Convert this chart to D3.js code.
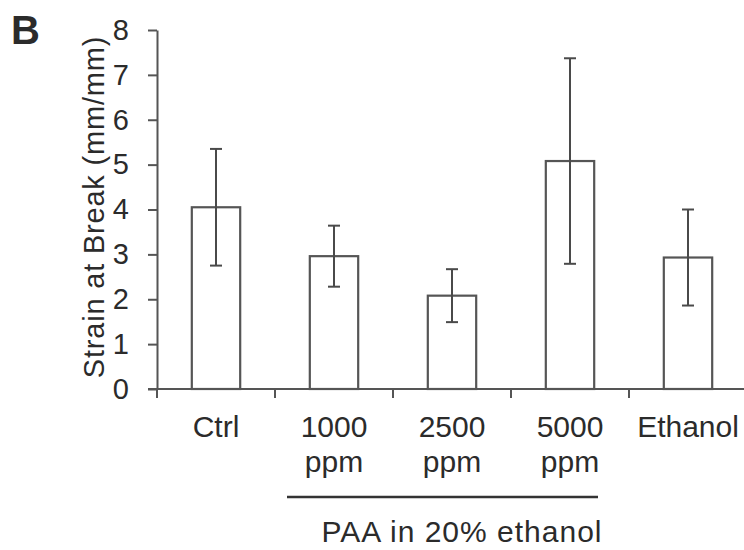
<!DOCTYPE html>
<html>
<head>
<meta charset="utf-8">
<script src="https://cdn.jsdelivr.net/npm/d3@7"></script>
<style>
  html, body { margin: 0; padding: 0; background: #fff; }
  svg { display: block; }
  text { font-family: "Liberation Sans", Arial, Helvetica, sans-serif; fill: #2b2b2b; }
</style>
</head>
<body>
<svg id="chart" width="744" height="550"></svg>
<script>
// ---- data ----
const categories = ["Ctrl", "1000 ppm", "2500 ppm", "5000 ppm", "Ethanol"];
const labelLines = [["Ctrl"], ["1000", "ppm"], ["2500", "ppm"], ["5000", "ppm"], ["Ethanol"]];
const means = [4.05, 2.96, 2.08, 5.08, 2.93];
const errors = [1.30, 0.68, 0.59, 2.29, 1.07];
const yTicks = [0, 1, 2, 3, 4, 5, 6, 7, 8];
const yTitle = "Strain at Break (mm/mm)";
const groupLabel = "PAA in 20% ethanol";
const panelLabel = "B";

// ---- layout ----
const svg = d3.select("#chart");
const x0 = 157, x1 = 747, yBottom = 389, yTop = 30;
const axisColor = "#555";

const x = d3.scaleBand().domain(categories).range([x0, x1]).padding(0);
const y = d3.scaleLinear().domain([0, 8]).range([yBottom, yTop]);
const barW = x.bandwidth() * 0.41;

// y axis
const yAxis = d3.axisLeft(y).tickValues(yTicks).tickSize(9).tickSizeOuter(0).tickPadding(19);
const gy = svg.append("g").attr("transform", `translate(${x0},0)`).call(yAxis);
gy.select(".domain").attr("stroke", axisColor).attr("stroke-width", 2);
gy.selectAll(".tick line").attr("stroke", axisColor).attr("stroke-width", 2);
gy.selectAll(".tick text")
  .attr("font-size", 29)
  .attr("fill", "#2b2b2b")
  .style("font-family", '"Liberation Sans", Arial, sans-serif');

// x axis line
svg.append("line")
  .attr("x1", x0 - 9).attr("x2", 744)
  .attr("y1", y(0)).attr("y2", y(0))
  .attr("stroke", axisColor).attr("stroke-width", 2);

// x ticks at band boundaries
const boundaries = categories.map(c => x(c));
svg.append("g").selectAll("line").data(boundaries).join("line")
  .attr("x1", d => d).attr("x2", d => d)
  .attr("y1", y(0)).attr("y2", y(0) + 9)
  .attr("stroke", axisColor).attr("stroke-width", 2);

// bars
const data = categories.map((c, i) => ({ c, m: means[i], e: errors[i], lines: labelLines[i] }));
svg.append("g").selectAll("rect").data(data).join("rect")
  .attr("x", d => x(d.c) + x.bandwidth() / 2 - barW / 2)
  .attr("y", d => y(d.m))
  .attr("width", barW)
  .attr("height", d => y(0) - y(d.m))
  .attr("fill", "#fff")
  .attr("stroke", axisColor)
  .attr("stroke-width", 2.2);

// error bars
const capW = 12;
const eg = svg.append("g").attr("stroke", "#4a4a4a").attr("stroke-width", 2);
data.forEach(d => {
  const cx = x(d.c) + x.bandwidth() / 2;
  const yHi = y(d.m + d.e), yLo = y(d.m - d.e);
  eg.append("line").attr("x1", cx).attr("x2", cx).attr("y1", yHi).attr("y2", yLo);
  eg.append("line").attr("x1", cx - capW / 2).attr("x2", cx + capW / 2).attr("y1", yHi).attr("y2", yHi);
  eg.append("line").attr("x1", cx - capW / 2).attr("x2", cx + capW / 2).attr("y1", yLo).attr("y2", yLo);
});

// category labels
const lg = svg.append("g");
data.forEach(d => {
  const cx = x(d.c) + x.bandwidth() / 2;
  const t = lg.append("text")
    .attr("x", cx).attr("y", 437)
    .attr("text-anchor", "middle")
    .attr("font-size", 30);
  d.lines.forEach((ln, j) => {
    t.append("tspan").attr("x", cx).attr("y", 437 + j * 35).text(ln);
  });
});

// group bracket line
svg.append("line")
  .attr("x1", x("1000 ppm") + 12)
  .attr("x2", x("5000 ppm") + x.bandwidth() / 2 + 28)
  .attr("y1", 497).attr("y2", 497)
  .attr("stroke", "#333").attr("stroke-width", 2.5);

svg.append("text")
  .attr("x", 462).attr("y", 542)
  .attr("text-anchor", "middle")
  .attr("font-size", 30)
  .attr("letter-spacing", 1)
  .text(groupLabel);

// y title
svg.append("text")
  .attr("transform", `translate(104,207) rotate(-90)`)
  .attr("text-anchor", "middle")
  .attr("font-size", 29)
  .attr("letter-spacing", 0.8)
  .text(yTitle);

// panel label
svg.append("text")
  .attr("x", 11).attr("y", 44)
  .attr("font-size", 40)
  .attr("font-weight", "bold")
  .attr("fill", "#111")
  .text(panelLabel);
</script>
</body>
</html>
